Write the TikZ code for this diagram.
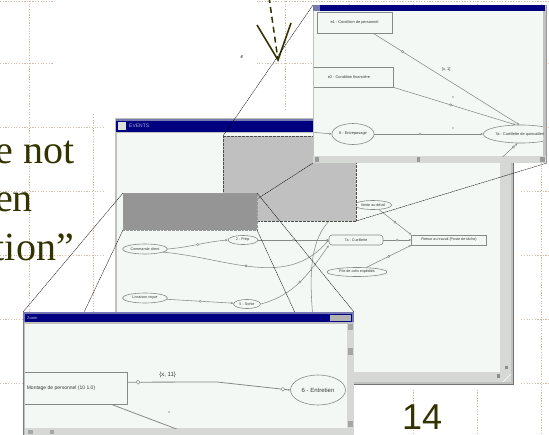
\documentclass[tikz,border=0pt]{standalone}
\usepackage{fontspec}
\setmainfont{Liberation Serif}
\setsansfont{Liberation Sans}
\usetikzlibrary{arrows.meta,shapes.geometric}

\definecolor{slidetext}{RGB}{51,51,0}
\definecolor{gridbrown}{RGB}{212,186,170}
\definecolor{navybar}{RGB}{0,0,128}
\definecolor{lavbar}{RGB}{120,120,176}
\definecolor{framegray}{RGB}{192,194,192}
\definecolor{scrollgray}{RGB}{214,216,214}
\definecolor{paneltint}{RGB}{244,248,245}
\definecolor{zoomlight}{RGB}{192,192,192}
\definecolor{zoomdark}{RGB}{149,149,149}
\definecolor{edgegray}{RGB}{135,138,135}
\definecolor{labelgray}{RGB}{55,57,55}

\begin{document}
\begin{tikzpicture}[x=1pt,y=-1pt,
  gridline/.style={gridbrown,line width=0.7pt,dash pattern=on 1.2pt off 1.5pt},
  winspot/.style={inner sep=0pt,outer sep=0pt},
  zoomline/.style={black,line width=0.35pt,dash pattern=on 1.5pt off 0.5pt},
  gbox/.style={draw=edgegray,fill=paneltint,line width=0.6pt,inner sep=1pt,text=labelgray},
  gell/.style={gbox,ellipse},
  gedge/.style={edgegray,line width=0.55pt,-{Stealth[length=2.5pt,width=2.2pt]}},
  knot/.style={circle,draw=edgegray,fill=paneltint,line width=0.45pt,inner sep=0.8pt},
  speck/.style={circle,fill=labelgray,inner sep=0.45pt},
  bigtext/.style={slidetext,font=\fontsize{40}{40}\selectfont,inner sep=0pt,anchor=base east},
  tinyfont/.style={font=\sffamily\fontsize{3.7}{3.9}\selectfont},
  smallfont/.style={font=\sffamily\fontsize{3.9}{4.2}\selectfont},
  lowfont/.style={font=\sffamily\fontsize{6}{6.5}\selectfont}]

\useasboundingbox (0,0) rectangle (549,434);
\clip (0,0) rectangle (549,434);

\begin{scope}[xshift=29pt,yshift=1pt]
\draw[gridline,step=64pt] (-29,1) grid (520,435);
\end{scope}
\draw[gridline] (0,1.2) -- (549,1.2);
\fill[white] (53,-1) rectangle (257,113);
\fill[white] (105,112) rectangle (521,390);

\node[bigtext] (line1) at (75,163) {e not};
\node[bigtext] (line2) at (33,211) {en};
\node[bigtext] (line3) at (74,260) {tion”};
\node[slidetext,font=\sffamily\fontsize{36}{36}\selectfont,inner sep=0pt,anchor=base west] (pagenum) at (402,429) {14};
\node[font=\itshape\fontsize{6}{6}\selectfont,inner sep=0pt] (smalle) at (242,57) {e};

\coordinate (arrowtail) at (269,-3);
\coordinate (arrowtip) at (278,60);
\draw[slidetext,line width=1.5pt,dash pattern=on 6pt off 4pt] (arrowtail) -- (arrowtip);
\draw[slidetext,line width=1.6pt] (arrowtip) ++(-21,-35) -- (arrowtip) -- ++(13,-37);

\node[winspot,minimum width=398pt,minimum height=266pt] (bigwin) at (314,251) {};
\node[winspot,minimum width=234pt,minimum height=158pt] (rightwin) at (430,84) {};
\node[winspot,minimum width=331pt,minimum height=129pt] (lowwin) at (188.5,376.5) {};

\fill[framegray] (bigwin.north west) rectangle (bigwin.south east);
\draw[black!55,line width=1pt] (bigwin.north east) -- (bigwin.south east) -- (bigwin.south west);
\fill[lavbar] (116,119) rectangle (512,132);
\fill[navybar] (116,120.5) rectangle (512,132);
\fill[scrollgray!80] (118,121.5) rectangle (126,129.5);
\node[anchor=west,inner sep=0pt,text=lavbar!60!white,font=\sffamily\fontsize{5}{5}\selectfont] (bigtitle) at (129,126) {EVENTS};
\fill[paneltint] (117,133) rectangle (500,372);
\fill[scrollgray] (500,133) rectangle (511,372);
\fill[scrollgray] (117,372) rectangle (511,382);
\fill[black!45] (497,374) rectangle (500,378);
\fill[black!45] (505,366) rectangle (508,369);
\draw[white] (503,382) -- (511,374);

\begin{scope}
\clip (117,133) rectangle (500,372);
\node[gell,tinyfont,minimum width=37pt,minimum height=9pt] (vente) at (373,205) {Vente au détail};
\node[gbox,tinyfont,minimum width=75pt,minimum height=10pt] (retour) at (449,240) {Retour au travail (Poste de tâche)};
\node[gbox,tinyfont,rounded corners=3pt,minimum width=54pt,minimum height=10pt] (cueil) at (356,240) {7a - Cueillette};
\node[gell,tinyfont,minimum width=30pt,minimum height=9pt] (prep) at (243,240) {2 - Prép.};
\node[gell,tinyfont,minimum width=45pt,minimum height=10pt] (cmd) at (145,249) {Commande client};
\node[gell,tinyfont,minimum width=60pt,minimum height=9pt] (colis) at (357,272) {Pile de colis expédiés};
\node[gell,tinyfont,minimum width=45pt,minimum height=10pt] (livr) at (145,298) {Livraison reçue};
\node[gell,tinyfont,minimum width=27pt,minimum height=9pt] (sortie) at (247,304) {5 - Sortie};
\coordinate (arcfoot) at (316,372);
\draw[gedge] (cmd.east) to[out=5,in=185] node[knot,pos=.5] (kb1) {} (prep.west);
\draw[gedge] (cmd.-10) to[out=-5,in=230] node[knot,pos=.45] (kb2) {} (cueil.west);
\draw[gedge] (prep) -- node[knot,pos=.5] (kb3) {} (cueil);
\draw[gedge] (cueil) -- node[knot,pos=.5] (kb4) {} (retour);
\draw[gedge] (vente) -- node[knot,pos=.5] (kb5) {} (retour.north west);
\draw[gedge] (colis) -- node[knot,pos=.5] (kb6) {} (retour.south west);
\draw[gedge] (livr) -- node[knot,pos=.5] (kb7) {} (sortie);
\draw[gedge] (sortie.east) to[out=15,in=235] node[knot,pos=.5] (kb8) {} (cueil.south west);
\draw[edgegray,line width=0.55pt] (vente.west) to[out=200,in=90] (arcfoot);
\end{scope}

\node[winspot,fill=zoomlight,draw=black!70,line width=0.35pt,densely dotted,minimum width=133pt,minimum height=85pt] (lightzone) at (289.5,178.5) {};
\draw[zoomline] (lightzone.north west) -- (rightwin.north west);
\draw[zoomline] (lightzone.north east) -- (rightwin.north east);
\draw[zoomline] (lightzone.south west) -- (rightwin.south west);
\draw[zoomline] (lightzone.south east) -- (rightwin.south east);
\node[winspot,fill=zoomdark,draw=black!40,line width=0.35pt,densely dotted,minimum width=134pt,minimum height=37pt] (darkzone) at (190,211.5) {};
\draw[zoomline] (darkzone.north west) -- (lowwin.north west);
\draw[zoomline] (darkzone.north east) -- (lowwin.north east);
\draw[zoomline] (darkzone.south west) -- (lowwin.south west);
\draw[zoomline] (darkzone.south east) -- (lowwin.south east);

\fill[framegray] (rightwin.north west) rectangle (rightwin.south east);
\fill[navybar] (313,5) rectangle (545,11);
\fill[lavbar] (313,5) rectangle (320,11);
\fill[paneltint] (314,11) rectangle (543,156);
\fill[scrollgray] (313,156) rectangle (547,163);
\fill[black!40] (315,157) rectangle (319,162);
\fill[black!40] (417,157) rectangle (420,162);
\fill[black!40] (540,157) rectangle (545,162);
\draw[black!40,line width=0.8pt] (546.6,5) -- (546.6,163);

\begin{scope}
\clip (314,11) rectangle (543,156);
\node[gbox,smallfont,minimum width=75pt,minimum height=21pt] (e1) at (354.5,22.5) {e1 - Condition de personnel};
\node[gbox,smallfont,minimum width=88pt,minimum height=20pt] (e2) at (349,77) {e2 - Condition financière};
\node[gell,smallfont,minimum width=41pt,minimum height=21pt] (s8) at (353,134) {8 - Entreposage};
\node[gell,smallfont,minimum height=18pt,anchor=west] (s7a) at (483,134) {7a - Cueillette de quincaillerie};
\coordinate (inR) at (300,131);
\coordinate (upR) at (497,162);
\draw[gedge] (e1.-30) -- node[knot,pos=.2] (kr1) {} node[pos=.5,above=7pt,smallfont,text=labelgray,inner sep=0pt] (lr1) {[x, 1]} (s7a.100);
\draw[gedge] (e2.south east) -- node[knot,pos=.47] (kr2) {} (s7a.120);
\draw[gedge] (s8) -- node[knot,pos=.42] (kr3) {} (s7a);
\draw[gedge] (inR) -- (s8.west);
\draw[gedge] (upR) -- node[knot,pos=.8] (kr4) {} (s7a.250);
\node[speck] (dr1) at (453,97) {};
\node[speck] (dr2) at (453,128) {};
\end{scope}

\fill[lavbar] (lowwin.north west) rectangle (lowwin.south east);
\fill[framegray] (24,322) rectangle (354,441);
\fill[navybar] (25,314) rectangle (352,322);
\node[anchor=west,inner sep=0pt,text=lavbar!50!white,font=\sffamily\fontsize{4}{4}\selectfont] (lowtitle) at (27,318) {Zoom};
\fill[black!30] (330,315) rectangle (351,321);
\fill[paneltint] (25,324) rectangle (347,428);
\fill[scrollgray] (347,324) rectangle (354,428);
\fill[black!35] (348,324) rectangle (353,330);
\fill[black!35] (348,348) rectangle (353,355);
\fill[black!35] (348,421) rectangle (353,427);
\fill[scrollgray] (25,428) rectangle (354,441);
\fill[black!35] (28,430) rectangle (33,434);
\fill[black!35] (50,430) rectangle (54,434);

\begin{scope}
\clip (25,324) rectangle (347,428);
\node[gbox,font=\sffamily\fontsize{5}{5.5}\selectfont,minimum width=132pt,minimum height=32pt] (lbox) at (61,388) {Montage de personnel (10 1.0)};
\node[gell,lowfont,minimum width=55pt,minimum height=30pt] (lell) at (318,390) {6 - Entretien};
\coordinate (lbend) at (217,382);
\coordinate (lout) at (195,436);
\draw[gedge,line width=0.8pt] (lbox.5) -- node[knot,pos=.12,inner sep=1.4pt] (kl1) {} node[pos=.45,above=1pt,lowfont,text=labelgray] (ll1) {\{x, 11\}} (lbend) -- node[knot,pos=.9,inner sep=1.4pt] (kl2) {} (lell.west);
\draw[edgegray,line width=0.8pt] (lbox.-18) -- (lout);
\node[speck] (ldot) at (169,412) {};
\end{scope}
\end{tikzpicture}
\end{document}
